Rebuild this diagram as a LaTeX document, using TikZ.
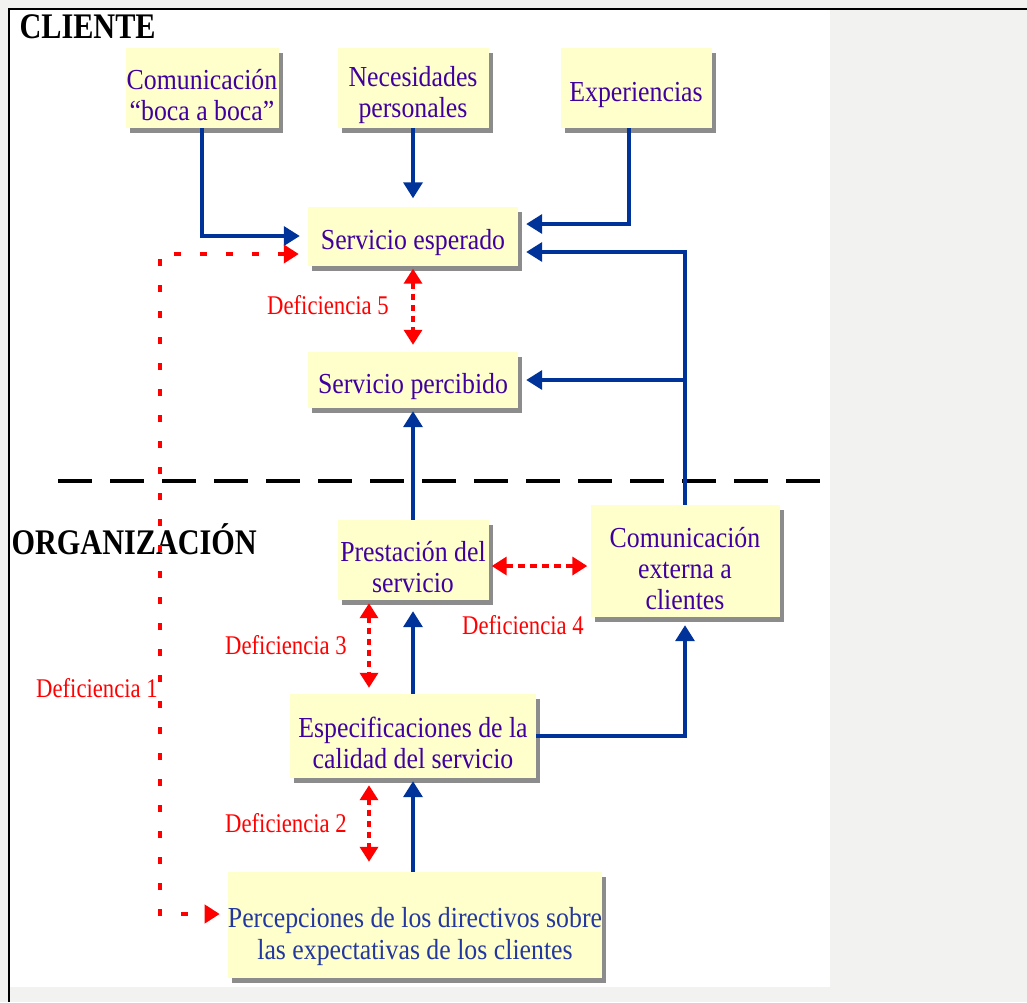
\documentclass[tikz,border=0pt]{standalone}
\usepackage{fontspec}
\setmainfont{Liberation Serif}[FakeStretch=0.84]
\newfontfamily\boxfont{Liberation Serif}[FakeStretch=0.89]
\usetikzlibrary{arrows.meta,shadows}
\definecolor{boxyellow}{RGB}{255,255,204}
\definecolor{flowblue}{RGB}{0,51,153}
\definecolor{boxtext}{RGB}{64,0,160}
\definecolor{perctext}{RGB}{35,55,160}
\definecolor{pagegray}{RGB}{242,242,240}
% extra room above the first line, pushes the text down in its box
\newcommand\boxlift[1][34pt]{\rule{0pt}{#1}}
\begin{document}
\begin{tikzpicture}[
    x=1pt, y=-1pt,
    box/.style={fill=boxyellow, inner sep=0, align=center, text=boxtext,
      font=\boxfont\fontsize{29}{31}\selectfont,
      drop shadow={shadow xshift=4pt, shadow yshift=-5pt, fill=black!45, opacity=1}},
    flow/.style={draw=flowblue, line width=3.5pt, -{Triangle[width=19pt,length=16pt]}, shorten >=8pt},
    gap/.style={draw=red, line width=3.5pt, dash pattern=on 6pt off 5pt,
      {Triangle[width=18pt,length=15pt]}-{Triangle[width=18pt,length=15pt]}, shorten >=3pt, shorten <=3pt},
    gapone/.style={gap, line width=4pt, dash pattern=on 7pt off 19pt},
    gaplabel/.style={text=red, font=\fontsize{27}{29}\selectfont},
    title/.style={font=\bfseries\fontsize{36}{38}\selectfont}
  ]
  \useasboundingbox (0,0) rectangle (1027,1002);

  % Page and frame
  \fill[pagegray] (0,0) rectangle (1027,1002);
  \fill[white] (10,10) rectangle (830,987);
  \draw[line width=2pt] (1027,9) -- (9,9) -- (9,1002);

  % Line between client and organization
  \draw[line width=4pt, dash pattern=on 34pt off 18pt] (58,481) -- (830,481);

  \node[title, anchor=west] (cliente) at (16,27) {CLIENTE};
  \node[title, anchor=west] (organiz) at (8,539) {ORGANIZACIÓN};

  % Client side
  \node[box, minimum width=153pt, minimum height=80pt] (boca) at (202,88) {\boxlift Comunicación\\“boca a boca”};
  \node[box, minimum width=151pt, minimum height=80pt] (neces) at (413,88) {\boxlift Necesidades\\personales};
  \node[box, minimum width=151pt, minimum height=80pt] (exper) at (636,88) {\boxlift Experiencias};
  \node[box, minimum width=210pt, minimum height=59pt] (esperado) at (413,236) {\boxlift Servicio esperado};
  \node[box, minimum width=210pt, minimum height=56pt] (percibido) at (413,380) {\boxlift Servicio percibido};

  % Organization side
  \node[box, minimum width=151pt, minimum height=80pt] (prest) at (413,560) {\boxlift Prestación del\\servicio};
  \node[box, minimum width=189pt, minimum height=112pt] (comext) at (685,561) {\boxlift[35pt]Comunicación\\externa a\\clientes};
  \node[box, minimum width=246pt, minimum height=84pt] (espec) at (413,736) {\boxlift Especificaciones de la\\calidad del servicio};
  \node[box, text=perctext, font=\boxfont\fontsize{29}{32}\selectfont,
    minimum width=370pt, minimum height=106pt] (percep) at (415,925) {\boxlift[44pt]Percepciones de los directivos sobre\\las expectativas de los clientes};

  % Blue flows
  \draw[flow] (boca.south) |- (esperado.west);
  \draw[flow] (neces) -- (esperado);
  \draw[flow] ([xshift=-7pt]exper.south) |- ([yshift=12pt]esperado.east);
  \draw[flow] (comext.north) |- ([yshift=-16pt]esperado.east);
  \draw[flow] (comext.north |- percibido.east) -- (percibido.east);
  \draw[flow, shorten >=3pt] (prest) -- (percibido);
  \draw[flow, shorten >=11pt] (espec) -- (prest);
  \draw[flow] (espec.east) -| (comext.south);
  \draw[flow, shorten >=3pt] (espec.south |- percep.north) -- (espec.south);

  % Gaps
  \coordinate (bend1) at (160,600);
  \draw[gapone, shorten <=9pt, shorten >=8pt] ([yshift=-18pt]esperado.west) -| (bend1) |- ([yshift=11pt]percep.west);
  \draw[gap, shorten >=7pt] (esperado) -- (percibido);
  \draw[gap, dash pattern=on 7pt off 5pt] ([yshift=-6pt]prest.east) -- ([yshift=-6pt]prest.east -| comext.west);
  \draw[gap, shorten >=6pt] ([xshift=-44pt]prest.south) -- ([xshift=-44pt]prest.south |- espec.north);
  \draw[gap, shorten <=7pt, shorten >=10pt] ([xshift=-44pt]espec.south) -- ([xshift=-44pt]espec.south |- percep.north);

  \node[gaplabel] (def1) at (97,688) {Deficiencia 1};
  \node[gaplabel] (def2) at (286,823) {Deficiencia 2};
  \node[gaplabel] (def3) at (286,645) {Deficiencia 3};
  \node[gaplabel] (def4) at (523,625) {Deficiencia 4};
  \node[gaplabel] (def5) at (328,305) {Deficiencia 5};
\end{tikzpicture}
\end{document}
